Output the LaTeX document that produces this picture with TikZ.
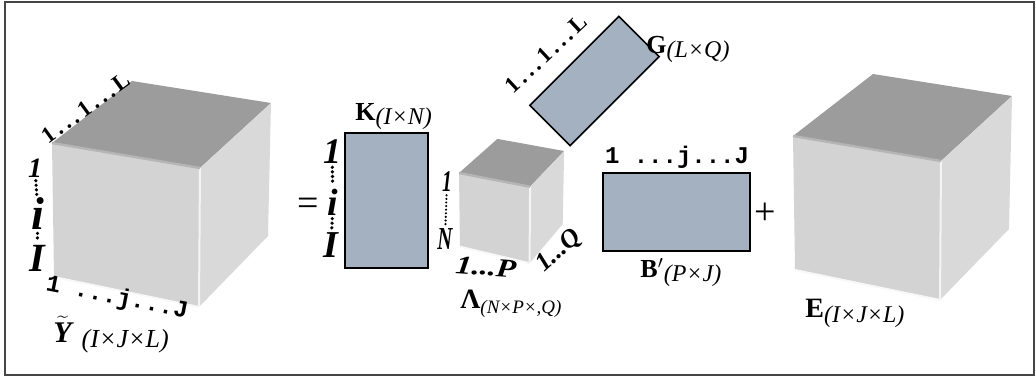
\documentclass[tikz,border=0pt]{standalone}
\usepackage{fontspec}
\setmainfont{Liberation Serif}
\newfontfamily\idxmono{Liberation Mono}

\definecolor{cubetop}{HTML}{9C9C9C}
\definecolor{cubefront}{HTML}{D3D3D3}
\definecolor{cubeside}{HTML}{D9D9D9}
\definecolor{matfill}{HTML}{A3B1C0}
\definecolor{framegray}{HTML}{454545}

\newcommand{\setfs}[1]{\fontsize{#1}{#1}\selectfont}
\newcommand{\dimsub}[2][12]{\raisebox{-0.4ex}{\setfs{#1}\itshape #2}}
\newcommand{\tcube}[3]{%
  \begin{scope}[shift={#1}, xscale=#2, yscale=#3]
    \fill[cubetop] (0,0) -- (80,-62) -- (219,-40) -- (148,25) -- cycle;
    \fill[cubeside] (148,25) -- (219,-40) -- (216,93) -- (147,164) -- cycle;
    \fill[cubefront] (0,0) -- (148,25) -- (147,164) -- (2,134) -- cycle;
    \draw[white!85!cubefront, line width=1pt] (147,164) -- (2,134);
    \draw[white!75!cubefront, line width=1pt] (148,25) -- (147,164);
    \draw[cubetop!55!cubefront, line width=1.2pt] (0,0) -- (148,25);
  \end{scope}}

\begin{document}
\begin{tikzpicture}[x=0.5pt, y=-0.5pt,
    mat/.style={draw=black, line width=0.8pt, fill=matfill, inner sep=0pt},
    lbl/.style={inner sep=0pt, anchor=base west, font=\setfs{12}},
    idx/.style={inner sep=0pt, font=\bfseries\itshape\setfs{#1}},
    spanlbl/.style={inner sep=0pt, font=\bfseries\setfs{11.5}},
    monoidx/.style={inner sep=0pt, font=\idxmono\bfseries\setfs{12}},
    dotline/.style={line width=1.8pt, line cap=round, dash pattern=on 0pt off 2.3pt,
      shorten >=1.5pt, shorten <=1.5pt},
    smalldots/.style={dotline, line width=1.2pt, dash pattern=on 0pt off 1.8pt}]
  \useasboundingbox (0,0) rectangle (1036,380);
  \draw[framegray, line width=1pt] (5,2) rectangle (1034,375);

  \tcube{(52,143)}{1}{1}
  \tcube{(459,173)}{0.48}{0.55}
  \tcube{(793,136)}{1}{1}

  % Y tensor
  \node[spanlbl, rotate=36] (ytop) at (86,108) {1\,.\,.\,.\,1\,.\,.\,.\,L};
  \node[idx=14] (yone) at (35,168) {1};
  \node[idx=23] (yi) at (38,214) {i};
  \node[idx=20] (yI) at (37,258) {I};
  \draw[dotline] (yone) -- (yi);
  \draw[dotline] (yi) -- (yI);
  \node[monoidx, rotate=-11] (ybot) at (117,298) {1 ...j...J};
  \node[lbl] (Ylab) at (53,342) {\setfs{15}$\widetilde{\mbox{\bfseries\itshape Y}}$\,\,\dimsub[13]{(I×J×L)}};

  \node[idx=18, font=\setfs{19}] (eq) at (308,207) {=};

  % K
  \node[mat, minimum width=41.5pt, minimum height=67.5pt] (K) at (386.5,200.5) {};
  \node[lbl] (Klab) at (355,120) {\setfs{13}\textbf{K}\dimsub{(I×N)}};
  \node[idx=18] (kone) at (332,152) {1};
  \node[idx=19] (ki) at (333,202) {i};
  \node[idx=19] (kI) at (331,245) {I};
  \draw[dotline] (kone) -- (ki);
  \draw[dotline] (ki) -- (kI);

  % core tensor
  \node[idx=15, xscale=0.65] (lone) at (447,182) {1};
  \node[idx=16, xscale=0.65] (lN) at (445,239) {N};
  \draw[smalldots] (lone) -- (lN);
  \node[idx=13, xscale=1.25, rotate=-5] (lP) at (486,267) {1...P};
  \node[idx=13, rotate=42] (lQ) at (559,251) {1...Q};
  \node[lbl] (Llab) at (460,308) {\setfs{14}\textbf{Λ}\dimsub[9.5]{(N×P×,Q)}};

  % G
  \node[mat, rotate=45, minimum width=63pt, minimum height=28.5pt] (G) at (594.5,81) {};
  \node[spanlbl, rotate=43] (gside) at (546,54) {1\,.\,.\,.\,1\,.\,.\,.\,L};
  \node[lbl] (Glab) at (646,53) {\setfs{13}\textbf{G}\dimsub{(L×Q)}};

  % B'
  \node[mat, minimum width=73.5pt, minimum height=39pt] (B) at (676.5,212) {};
  \node[monoidx] (btop) at (677,157) {1 ...j...J};
  \node[lbl] (Blab) at (640,277) {\setfs{13}\textbf{B}$'$\dimsub{(P×J)}};

  \node[idx=18, font=\setfs{19}] (plus) at (765,214) {+};

  % E
  \node[lbl] (Elab) at (805,317) {\setfs{14}\textbf{E}\dimsub{(I×J×L)}};
\end{tikzpicture}
\end{document}
